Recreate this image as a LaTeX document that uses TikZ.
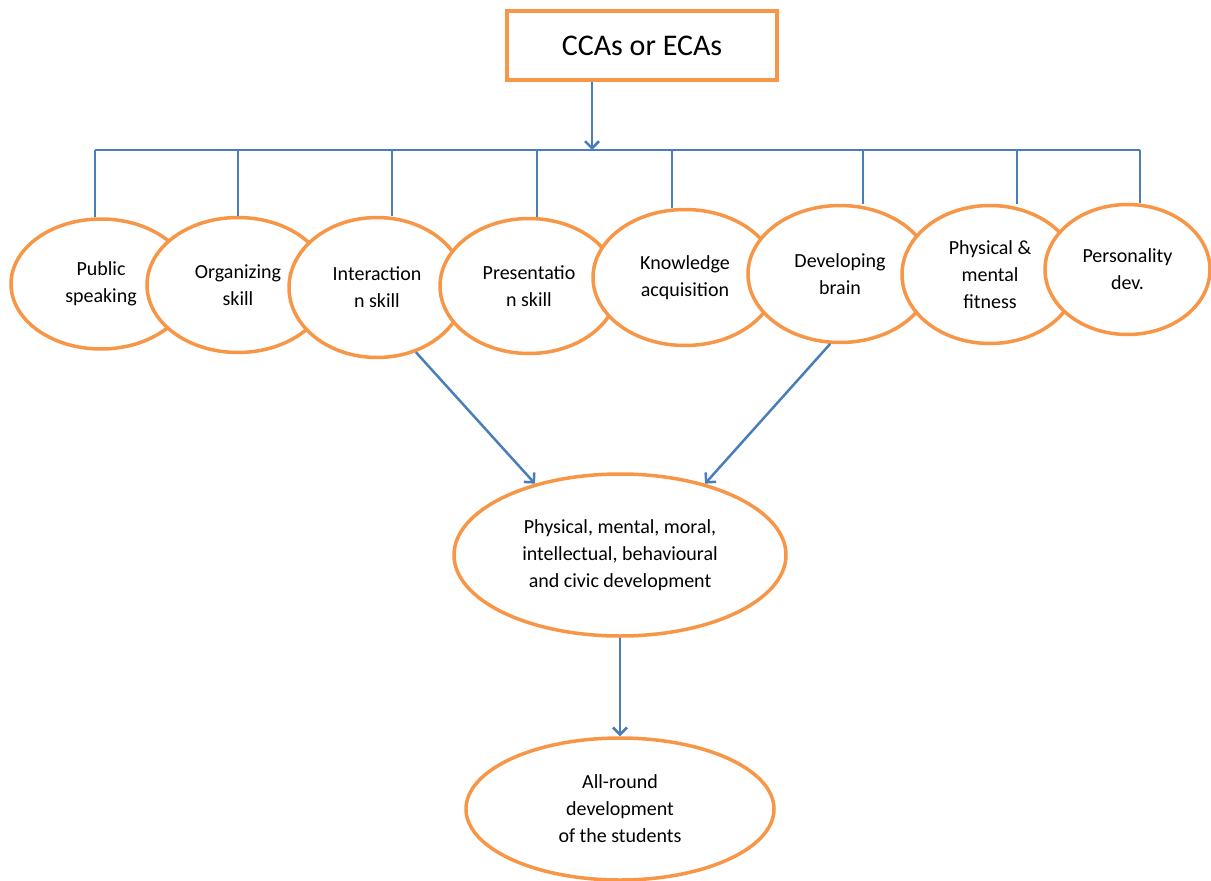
\documentclass[tikz,border=0pt]{standalone}
\usepackage{fontspec}
\setmainfont{Carlito}
\usetikzlibrary{shapes.geometric, arrows.meta, calc}
\definecolor{caorange}{HTML}{F79646}
\definecolor{cablue}{HTML}{4A7EBB}
\tikzset{
  >={Straight Barb[length=7pt,width=14pt]},
  ca head/.style={draw=caorange, fill=white, line width=3.5pt, minimum width=270pt,
    minimum height=69pt, inner sep=0pt, font=\fontsize{30}{36}\selectfont},
  ca oval/.style={draw=caorange, fill=white, ellipse, line width=3.5pt, inner sep=0pt,
    align=center, font=\fontsize{20}{27}\selectfont},
  ca link/.style={draw=cablue, line width=2.5pt},
  ca arrow/.style={draw=cablue, ->, line width=2.5pt},
}

\begin{document}
\begin{tikzpicture}[x=1pt, y=-1pt]
 \useasboundingbox (0,0) rectangle (1211,881);
 \node[ca head] (cca) at (642,45.5) {CCAs or ECAs};
 \node[ca oval, minimum width=180pt, minimum height=130pt] (pub) at (101,284) {Public\\speaking};
 \node[ca oval, minimum width=182pt, minimum height=135pt] (org) at (238,285) {Organizing\\skill};
 \node[ca oval, minimum width=176pt, minimum height=140pt] (inter) at (377,287.5) {Interaction\\n skill};
 \node[ca oval, minimum width=178pt, minimum height=135pt] (pres) at (529,286) {Presentatio\\n skill};
 \node[ca oval, minimum width=184pt, minimum height=136pt] (know) at (685,277.5) {Knowledge\\acquisition};
 \node[ca oval, minimum width=184pt, minimum height=137pt] (brain) at (840,274) {Developing\\brain};
 \node[ca oval, minimum width=176pt, minimum height=138pt] (fit) at (990,274.5) {Physical \&\\mental\\fitness};
 \node[ca oval, minimum width=165pt, minimum height=130pt] (pers) at (1127.5,269.5) {Personality\\dev.};
 \node[ca oval, minimum width=332pt, minimum height=162pt] (dev) at (620,555)
   {Physical, mental, moral,\\intellectual, behavioural\\and civic development};
 \node[ca oval, minimum width=308pt, minimum height=142pt] (all) at (620,809)
   {All-round\\development\\of the students};
 \foreach \x [count=\i] in {95,238,392,537,672,863,1017,1140}
   \coordinate (b\i) at (\x,150);
 \coordinate (btop) at (592,150);
 \draw[ca link] (b1) -- (b8);
 \foreach \n [count=\i] in {pub,org,inter,pres,know,brain,fit,pers}
   \draw[ca link] (b\i) -- (b\i |- \n.north);
 \draw[ca arrow] (cca.south -| btop) -- (btop);
 \draw[ca arrow] (inter.-59) -- (dev.140);
 \draw[ca arrow] (brain.-98) -- (dev.40);
 \draw[ca arrow] (dev) -- (all);
\end{tikzpicture}
\end{document}
